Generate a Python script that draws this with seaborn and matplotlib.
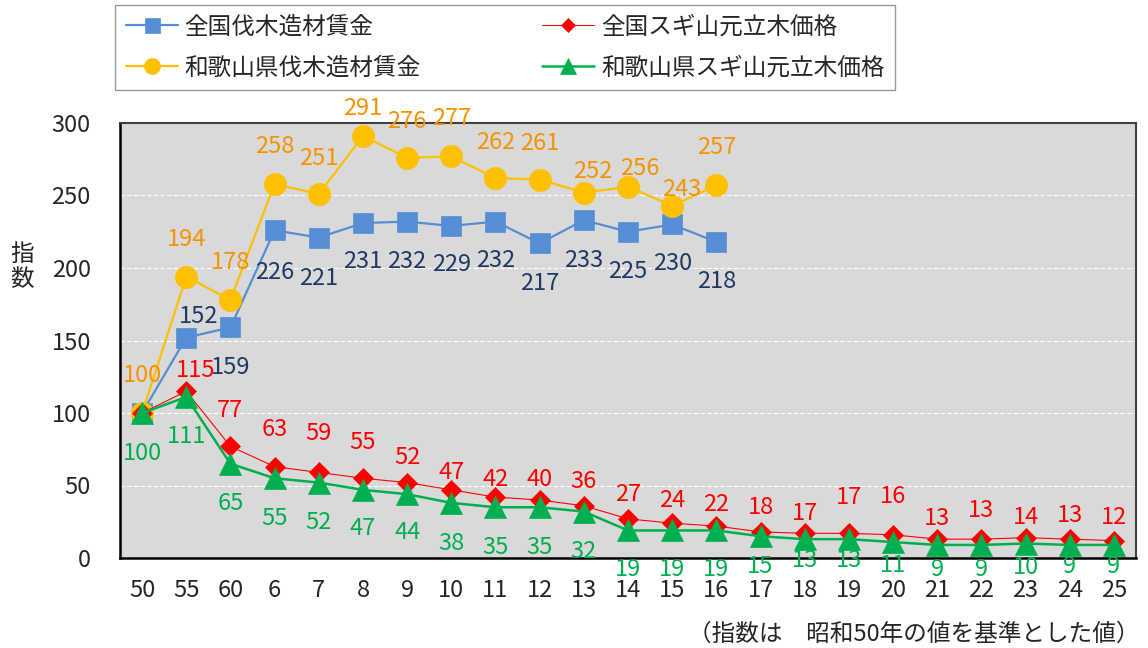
import numpy as np
import pandas as pd
import seaborn as sns
import matplotlib.pyplot as plt

# 年度 (昭和50,55,60 / 平成6..25)
years = ['50', '55', '60', '6', '7', '8', '9', '10', '11', '12', '13', '14', '15', '16',
         '17', '18', '19', '20', '21', '22', '23', '24', '25']

zenkoku_wage = [100, 152, 159, 226, 221, 231, 232, 229, 232, 217, 233, 225, 230, 218]
wakayama_wage = [100, 194, 178, 258, 251, 291, 276, 277, 262, 261, 252, 256, 243, 257]
zenkoku_sugi = [100, 115, 77, 63, 59, 55, 52, 47, 42, 40, 36, 27, 24, 22,
                18, 17, 17, 16, 13, 13, 14, 13, 12]
wakayama_sugi = [100, 111, 65, 55, 52, 47, 44, 38, 35, 35, 32, 19, 19, 19,
                 15, 13, 13, 11, 9, 9, 10, 9, 9]

names = ['全国伐木造材賃金', '和歌山県伐木造材賃金', '全国スギ山元立木価格', '和歌山県スギ山元立木価格']

sns.set_style('white')
plt.rcParams['font.family'] = ['Noto Sans CJK JP', 'DejaVu Sans']

# label offsets in pixels (vertical), None = no label
blue_dy = [None, 21, -40, -42, -41, -38, -40, -39, -39, -40, -40, -40, -39, -40]
gold_dy = [38, 37, 37, 37, 36, 28, 36, 38, 36, 36, 21, 18, 16, 38]
red_dy = [None, 21, 36, 37, 39, 36, 25, 17, 18, 21, 24, 24, 23, 22,
          24, 20, 36, 38, 21, 29, 20, 24, 23]
green_dy = [-40, -39, -40, -40, -40, -39, -38, -41, -40, -40, -40, -39, -39, -39,
            -30, -21, -21, -23, -25, -25, -24, -22, -22]

series = [
    dict(vals=zenkoku_wage, name=names[0], color='#558ED5', marker='s', ms=15, lw=1.6,
         tcolor='#1F3864', dy=blue_dy, dx={1: 12}),
    dict(vals=wakayama_wage, name=names[1], color='#FFC000', marker='o', ms=16, lw=1.6,
         tcolor='#F79200', dy=gold_dy, dx={10: 9, 11: 12, 12: 10}),
    dict(vals=zenkoku_sugi, name=names[2], color='#FF0000', marker='D', ms=10.5, lw=0.8,
         tcolor='#FF0000', dy=red_dy, dx={1: 9}),
    dict(vals=wakayama_sugi, name=names[3], color='#00B050', marker='^', ms=16, lw=1.8,
         tcolor='#00B050', dy=green_dy, dx={}),
]

fig = plt.figure(figsize=(11.48, 6.48), dpi=100)
ax = fig.add_axes([120 / 1148, 90 / 648, 1016 / 1148, 435 / 648])
ax.set_facecolor('#D9D9D9')

for s in series:
    df = pd.DataFrame({'pos': np.arange(len(s['vals'])), 'value': s['vals']})
    sns.lineplot(data=df, x='pos', y='value', ax=ax, color=s['color'], marker=s['marker'],
                 markersize=s['ms'], linewidth=s['lw'], markeredgecolor=s['color'],
                 markeredgewidth=0.5, label=s['name'])
    for i, v in enumerate(s['vals']):
        if s['dy'][i] is None:
            continue
        ax.annotate(str(v), (i, v), xytext=(s['dx'].get(i, 0), s['dy'][i]),
                    textcoords='offset pixels', ha='center', va='center',
                    fontsize=17, color=s['tcolor'])

handles, labels = ax.get_legend_handles_labels()
ax.get_legend().remove()
leg = fig.legend(handles, labels, loc='upper left',
                 bbox_to_anchor=(115 / 1148, 1 - 90 / 648, 780 / 1148, 85 / 648),
                 mode='expand', ncol=2, fontsize=17, frameon=True, fancybox=False,
                 edgecolor='#808080', borderaxespad=0, borderpad=0.45, labelspacing=0.75,
                 handlelength=2.2, handletextpad=0.3, markerscale=0.72)
leg.get_frame().set_linewidth(1.0)

ax.set_xlim(-0.5, len(years) - 0.5)
ax.set_ylim(0, 300)
ax.set_xticks(range(len(years)))
ax.set_xticklabels(years)
ax.set_xticks(np.arange(0.5, len(years) - 1, 1), minor=True)
ax.tick_params(axis='x', which='major', length=0, pad=15, labelsize=17)
ax.tick_params(axis='x', which='minor', direction='in', length=5, width=1, color='#7F7F7F')
ax.set_yticks(range(0, 301, 50))
ax.tick_params(axis='y', length=0, pad=21, labelsize=17)
ax.set_xlabel('')
ax.set_ylabel('')

ax.set_axisbelow(True)
ax.yaxis.grid(True, color='white', linestyle=(0, (4, 2)), linewidth=0.8)
ax.xaxis.grid(False)

for side in ['left', 'bottom']:
    ax.spines[side].set_color('black')
    ax.spines[side].set_linewidth(1.8)
for side in ['top', 'right']:
    ax.spines[side].set_visible(True)
    ax.spines[side].set_color('#404040')
    ax.spines[side].set_linewidth(1.5)

fig.text(22 / 1148, 1 - 267 / 648, '指\n数', ha='center', va='center', fontsize=17,
         linespacing=1.15)
fig.text(1140 / 1148, 1 - 634 / 648, '（指数は　昭和50年の値を基準とした値）',
         ha='right', va='center', fontsize=17)

fig.savefig('out.png', dpi=100)
